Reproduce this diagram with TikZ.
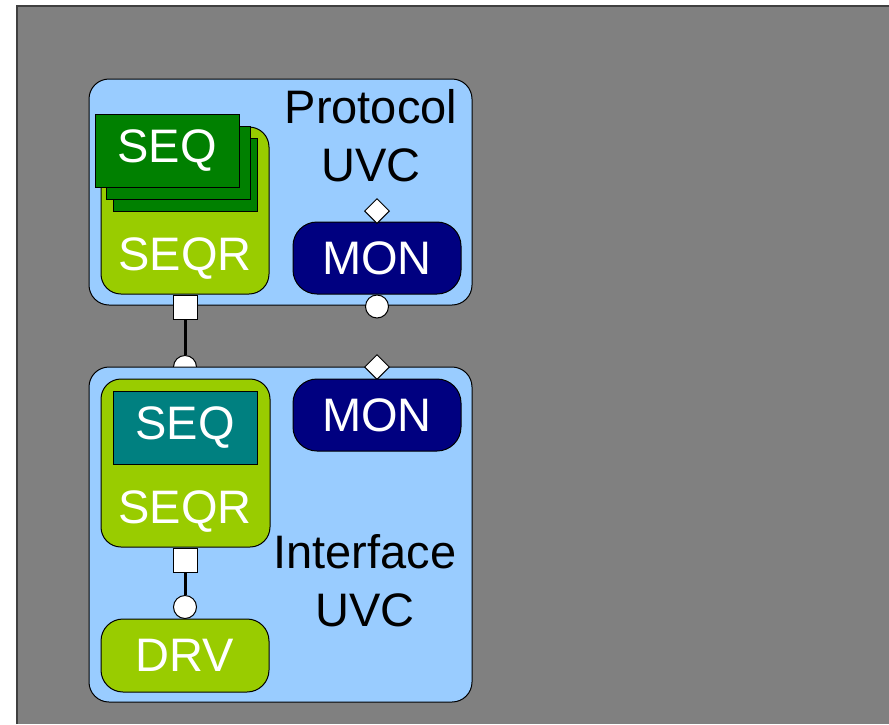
\documentclass[tikz,border=0pt]{standalone}
\usepackage{fontspec}
\setmainfont{Liberation Sans}
\usetikzlibrary{shapes.geometric}

\definecolor{bggray}{HTML}{808080}
\definecolor{uvcblue}{HTML}{99CCFF}
\definecolor{seqrgreen}{HTML}{99CC00}
\definecolor{seqgreen}{HTML}{008000}
\definecolor{seqteal}{HTML}{008080}
\definecolor{monnavy}{HTML}{000080}

\begin{document}
\begin{tikzpicture}[x=1pt, y=-1pt,
		big/.style={font=\fontsize{47}{58}\selectfont},
		uvc/.style={draw, line width=1pt, fill=uvcblue, rounded corners=20pt, minimum width=383pt},
		seqr/.style={draw, line width=1pt, fill=seqrgreen, rounded corners=20pt, minimum width=168pt},
		seqbox/.style={draw, line width=1pt, fill=seqgreen, minimum width=144pt, minimum height=73pt, text=white, big},
		mon/.style={draw, line width=1pt, fill=monnavy, rounded corners=24pt, minimum width=168pt, minimum height=72pt, text=white, big},
		port/.style={draw, line width=1pt, fill=white, inner sep=0pt},
		wire/.style={line width=3pt}]
			\useasboundingbox (0,0) rectangle (889,724);
			\fill[bggray] (17,6) rectangle (889,724);
			\draw[line width=2pt, black!75] (17,724) -- (17,6) -- (889,6);
			
			% protocol uvc
			\node[uvc, minimum height=226pt] (puvc) at (280.5,192) {};
			\node[big, align=center] (ptext) at (371,136) {Protocol\\UVC};
			\node[seqr, minimum height=167pt] (pseqr) at (185,210.5) {};
			\node[seqbox] (pseq3) at (185,174.5) {};
			\node[seqbox] (pseq2) at (178.5,162.5) {};
			\node[seqbox] (pseq1) at (167,150.5) {SEQ};
			\node[big, text=white] (pseqrtext) at (185,259) {SEQR};
			\node[mon] (pmon) at (377,258) {MON};
			\node[port, diamond, minimum width=25pt, minimum height=25pt] (pmonin) at (377,211) {};
			\node[port, circle, minimum size=23pt] (pmonout) at (377,306.5) {};
			\node[port, minimum size=24pt] (pseqrport) at (185,307) {};
			
			% interface uvc, its upper port sits behind the box
			\node[port, circle, minimum size=23pt] (iseqrin) at (185,367) {};
			\draw[wire] (pseqrport) -- (iseqrin);
			\node[uvc, minimum height=335pt] (iuvc) at (280.5,534.5) {};
			\node[big, align=center] (itext) at (365,581) {Interface\\UVC};
			\node[port, diamond, minimum width=25pt, minimum height=25pt] (imonin) at (377,367) {};
			\node[mon] (imon) at (377,415) {MON};
			\node[seqr, minimum width=169pt, minimum height=168pt] (iseqr) at (185.5,463) {};
			\node[seqbox, fill=seqteal] (iseq) at (185,427.5) {SEQ};
			\node[big, text=white] (iseqrtext) at (185,512) {SEQR};
			\node[port, minimum size=24pt] (iseqrport) at (185,560) {};
			\node[port, circle, minimum size=23pt] (idrvin) at (185,607) {};
			\draw[wire] (iseqrport) -- (idrvin);
			\node[seqr, minimum height=73pt, rounded corners=22pt, text=white, big] (idrv) at (185,655.5) {DRV};
		\end{tikzpicture}
\end{document}
